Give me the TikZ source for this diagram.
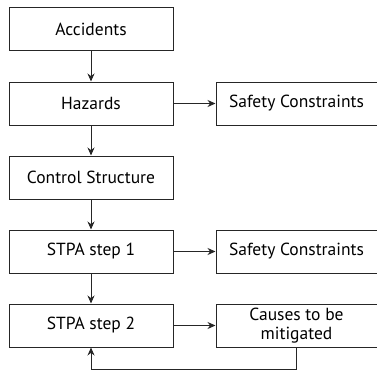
\documentclass[tikz,border=0pt]{standalone}
\usepackage{fontspec}
\setmainfont{PT Sans}
\usetikzlibrary{positioning,arrows.meta}

\tikzset{
  box/.style={draw=black!85, line width=1pt, minimum width=164pt, minimum height=43pt,
    inner sep=2pt, align=center, font=\fontsize{17.5}{19}\selectfont},
  rbox/.style={box, minimum width=161pt},
  flow/.style={draw=black!85, line width=1pt, -{Stealth[length=8pt,width=7pt]}}
}

\begin{document}
\begin{tikzpicture}[node distance=30pt and 42pt]
  \useasboundingbox (0,0) rectangle (377pt,-369pt);
  % Columna izquierda
  \node[box] (acc) at (91pt,-29.5pt) {Accidents};
  \node[box, below=of acc] (haz) {Hazards};
  \node[box, below=of haz] (ctrl) {Control Structure};
  \node[box, below=of ctrl] (st1) {STPA step 1};
  \node[box, below=of st1] (st2) {STPA step 2};

  % Columna derecha
  \node[rbox, right=of haz] (sc1) {Safety Constraints};
  \node[rbox, right=of st1] (sc2) {Safety Constraints};
  \node[rbox, right=of st2] (cau) {Causes to be\\mitigated};

  % Retroalimentacion
  \coordinate[below=22pt of cau.south] (fb);
  \draw[flow] (cau.south) -- (fb) -| (st2.south);

  % Flechas
  \draw[flow] (acc) -- (haz);
  \draw[flow] (haz) -- (ctrl);
  \draw[flow] (ctrl) -- (st1);
  \draw[flow] (st1) -- (st2);
  \draw[flow] (haz) -- (sc1);
  \draw[flow] (st1) -- (sc2);
  \draw[flow] (st2) -- (cau);
\end{tikzpicture}
\end{document}
